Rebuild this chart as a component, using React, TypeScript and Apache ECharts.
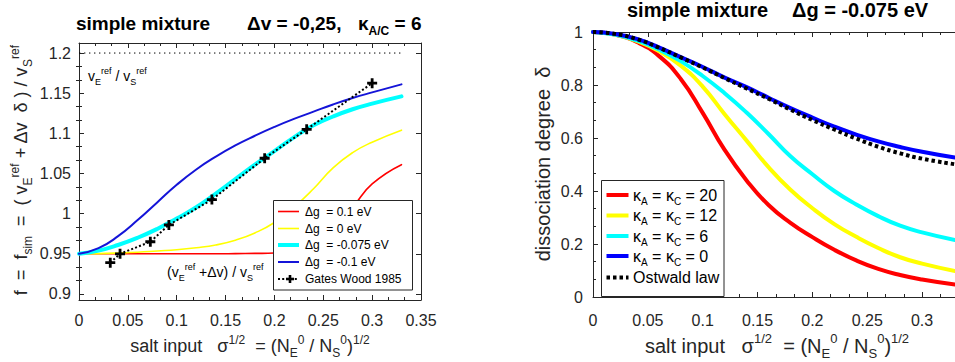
import React, { useEffect, useRef } from "react";
import * as echarts from "echarts";

const FONT = "'Liberation Sans', Arial, Helvetica, sans-serif";
const AXIS = "#262626";
const INK = "#000000";

// σ^1/2 grid of the simulated curves (both panels)
const sigma = [0, 0.02, 0.04, 0.06, 0.08, 0.1, 0.12, 0.14, 0.16, 0.18, 0.2, 0.22, 0.24, 0.26, 0.28, 0.3, 0.33];

// left panel: f = f_sim for four values of Δg
const fDgP01 = [0.95, 0.95, 0.95, 0.95, 0.95, 0.95, 0.95, 0.95, 0.9502, 0.9505, 0.951, 0.955, 0.966, 0.983, 1.008, 1.037, 1.061];
const fDg0 = [0.95, 0.9503, 0.951, 0.952, 0.9535, 0.955, 0.9575, 0.961, 0.967, 0.976, 0.989, 1.008, 1.031, 1.057, 1.076, 1.089, 1.104];
const fDgM0075 = [0.95, 0.954, 0.961, 0.97, 0.981, 0.994, 1.008, 1.025, 1.043, 1.061, 1.078, 1.095, 1.11, 1.121, 1.13, 1.137, 1.146];
const fDgM01 = [0.95, 0.957, 0.972, 0.992, 1.014, 1.036, 1.055, 1.071, 1.085, 1.097, 1.108, 1.118, 1.127, 1.136, 1.144, 1.151, 1.161];

// Gates & Wood 1985 measurements
const gwSigma = [0.032, 0.042, 0.073, 0.092, 0.136, 0.19, 0.233, 0.3];
const gwF = [0.939, 0.95, 0.965, 0.986, 1.0175, 1.069, 1.105, 1.1625];

// limiting ratio v_E^ref / v_S^ref, drawn over the simulated σ range
const refRatio = 1.2;
const refRatioSigma = [0, 0.33];

// right panel: dissociation degree δ for κ_A = κ_C
const dK20 = [1, 0.99, 0.962, 0.91, 0.823, 0.695, 0.555, 0.44, 0.347, 0.28, 0.226, 0.178, 0.138, 0.106, 0.083, 0.066, 0.047];
const dK12 = [1, 0.99, 0.966, 0.928, 0.873, 0.794, 0.69, 0.59, 0.49, 0.405, 0.335, 0.275, 0.227, 0.185, 0.15, 0.126, 0.098];
const dK6 = [1, 0.99, 0.968, 0.934, 0.89, 0.834, 0.769, 0.696, 0.615, 0.531, 0.463, 0.4, 0.349, 0.305, 0.269, 0.244, 0.215];
const dK0 = [1, 0.993, 0.974, 0.942, 0.905, 0.868, 0.828, 0.792, 0.752, 0.713, 0.677, 0.643, 0.613, 0.587, 0.566, 0.548, 0.526];
const dOstwald = [1, 0.993, 0.973, 0.941, 0.904, 0.866, 0.826, 0.787, 0.748, 0.707, 0.668, 0.632, 0.598, 0.567, 0.542, 0.522, 0.501];

// tick labels
const leftXTicks = [0, 0.05, 0.1, 0.15, 0.2, 0.25, 0.3, 0.35];
const leftYTicks = [0.9, 0.95, 1, 1.05, 1.1, 1.15, 1.2];
const rightXTicks = [0, 0.05, 0.1, 0.15, 0.2, 0.25, 0.3];
const rightYTicks = [0, 0.2, 0.4, 0.6, 0.8, 1];

// legend entries
const leftLegend = ["Δg  = 0.1 eV", "Δg  = 0 eV", "Δg  = -0.075 eV", "Δg  = -0.1 eV", "Gates Wood 1985"];
const rightKappa = ["20", "12", "6", "0"];

const RED = "#ff0000";
const YELLOW = "#ffff00";
const CYAN = "#00ffff";
const BLUE = "#0000ff";
const BLUE_L = "#1414d8";

const PLUS = "path://M3.6,0H6.4V3.6H10V6.4H6.4V10H3.6V6.4H0V3.6H3.6Z";

function scriptStyles(size: number, weight: string, color: string) {
  const L = Math.round(size * 1.4);
  const s = Math.round(size * 0.65);
  const common = { fontFamily: FONT, fontWeight: weight, fill: color };
  return {
    n: { ...common, fontSize: size, lineHeight: L },
    sub: { ...common, fontSize: s, lineHeight: L - 2 * Math.round(size * 0.28), verticalAlign: "bottom" },
    sup: { ...common, fontSize: s, lineHeight: L - 2 * Math.round(size * 0.32), verticalAlign: "top" },
  };
}

function label(
  x: number,
  y: number,
  text: string,
  size: number,
  o: { align?: string; weight?: string; rotate?: number; color?: string } = {}
) {
  const weight = o.weight || "normal";
  const color = o.color || INK;
  return {
    type: "text",
    x,
    y,
    rotation: o.rotate || 0,
    z: 110,
    silent: true,
    style: {
      text,
      align: o.align || "left",
      verticalAlign: "middle",
      fill: color,
      fontSize: size,
      fontFamily: FONT,
      fontWeight: weight,
      rich: scriptStyles(size, weight, color),
    },
  };
}

function between(ticks: number[], parts: number) {
  const out: number[] = [];
  for (let i = 0; i < ticks.length - 1; i++) {
    const step = (ticks[i + 1] - ticks[i]) / parts;
    for (let k = 1; k < parts; k++) out.push(+(ticks[i] + k * step).toFixed(6));
  }
  return out;
}

const pairs = (xs: number[], ys: number[]) => xs.map((x, i) => [x, ys[i]]);

function curve(name: string, ys: number[], color: string, width: number, xi: number, yi: number) {
  return {
    type: "line",
    name,
    xAxisIndex: xi,
    yAxisIndex: yi,
    data: pairs(sigma, ys),
    showSymbol: false,
    symbol: "none",
    smooth: 0.5,
    silent: true,
    lineStyle: { color, width, cap: "round", join: "round" },
  };
}

const axisLine = { show: true, onZero: false, lineStyle: { color: AXIS, width: 1 } };
const tickStyle = { color: AXIS, width: 1 };

function buildOption() {
  const LY_MIN = 0.8925;
  const LY_MAX = 1.2125;
  const leftYMinor = between(leftYTicks, 3);

  const xAxis = [
    // left panel, bottom + top
    {
      type: "value", gridIndex: 0, position: "bottom", min: 0, max: 0.35, interval: 0.05,
      axisLine, splitLine: { show: false },
      axisTick: { show: true, inside: true, length: 5, lineStyle: tickStyle },
      minorTick: { show: true, splitNumber: 3, length: 3, lineStyle: tickStyle },
      axisLabel: { show: true, color: AXIS, fontSize: 16, fontFamily: FONT, margin: 12, customValues: leftXTicks },
    },
    {
      type: "value", gridIndex: 0, position: "top", min: 0, max: 0.35, interval: 0.05,
      axisLine, splitLine: { show: false },
      axisTick: { show: true, inside: true, length: 5, lineStyle: tickStyle },
      minorTick: { show: true, splitNumber: 3, length: 3, lineStyle: tickStyle },
      axisLabel: { show: false },
    },
    // right panel, bottom + top
    {
      type: "value", gridIndex: 1, position: "bottom", min: 0, max: 0.33, interval: 0.05,
      axisLine, splitLine: { show: false },
      axisTick: { show: true, inside: true, length: 5, lineStyle: tickStyle },
      minorTick: { show: true, splitNumber: 3, length: 3, lineStyle: tickStyle },
      axisLabel: { show: true, color: AXIS, fontSize: 16, fontFamily: FONT, margin: 15, customValues: rightXTicks },
    },
    {
      type: "value", gridIndex: 1, position: "top", min: 0, max: 0.33, interval: 0.05,
      axisLine, splitLine: { show: false },
      axisTick: { show: true, inside: true, length: 5, lineStyle: tickStyle },
      minorTick: { show: true, splitNumber: 3, length: 3, lineStyle: tickStyle },
      axisLabel: { show: false },
    },
  ];

  const yAxis = [
    {
      type: "value", gridIndex: 0, position: "left", min: LY_MIN, max: LY_MAX,
      axisLine, splitLine: { show: false },
      axisTick: { show: true, inside: true, length: 5, lineStyle: tickStyle, customValues: leftYTicks },
      axisLabel: { show: true, color: AXIS, fontSize: 16, fontFamily: FONT, margin: 8, customValues: leftYTicks },
    },
    {
      type: "value", gridIndex: 0, position: "left", min: LY_MIN, max: LY_MAX,
      axisLine: { show: false }, splitLine: { show: false },
      axisTick: { show: true, inside: true, length: 3, lineStyle: tickStyle, customValues: leftYMinor },
      axisLabel: { show: false },
    },
    {
      type: "value", gridIndex: 0, position: "right", min: LY_MIN, max: LY_MAX,
      axisLine, splitLine: { show: false },
      axisTick: { show: true, inside: true, length: 5, lineStyle: tickStyle, customValues: leftYTicks },
      axisLabel: { show: false },
    },
    {
      type: "value", gridIndex: 0, position: "right", min: LY_MIN, max: LY_MAX,
      axisLine: { show: false }, splitLine: { show: false },
      axisTick: { show: true, inside: true, length: 3, lineStyle: tickStyle, customValues: leftYMinor },
      axisLabel: { show: false },
    },
    {
      type: "value", gridIndex: 1, position: "left", min: 0, max: 1, interval: 0.2,
      axisLine, splitLine: { show: false },
      axisTick: { show: true, inside: true, length: 5, lineStyle: tickStyle },
      minorTick: { show: true, splitNumber: 3, length: 3, lineStyle: tickStyle },
      axisLabel: { show: true, color: AXIS, fontSize: 16, fontFamily: FONT, margin: 10, customValues: rightYTicks },
    },
  ];

  const series: any[] = [
    curve("Δg = 0.1 eV", fDgP01, RED, 1.6, 0, 0),
    curve("Δg = 0 eV", fDg0, YELLOW, 1.6, 0, 0),
    curve("Δg = -0.075 eV", fDgM0075, CYAN, 4, 0, 0),
    curve("Δg = -0.1 eV", fDgM01, BLUE_L, 2, 0, 0),
    {
      type: "line",
      name: "v_E/v_S",
      xAxisIndex: 0,
      yAxisIndex: 0,
      data: refRatioSigma.map((x) => [x, refRatio]),
      showSymbol: false,
      symbol: "none",
      silent: true,
      lineStyle: { color: INK, width: 1, type: [1.4, 3.6] },
    },
    {
      type: "line",
      name: "Gates Wood 1985",
      xAxisIndex: 0,
      yAxisIndex: 0,
      data: pairs(gwSigma, gwF),
      symbol: PLUS,
      symbolSize: 10,
      showSymbol: true,
      silent: true,
      itemStyle: { color: INK },
      lineStyle: { color: INK, width: 2, type: [2, 2.2] },
      z: 5,
    },
    curve("κ = 20", dK20, RED, 4, 2, 4),
    curve("κ = 12", dK12, YELLOW, 4, 2, 4),
    curve("κ = 6", dK6, CYAN, 4, 2, 4),
    curve("κ = 0", dK0, BLUE, 4, 2, 4),
    {
      ...curve("Ostwald law", dOstwald, INK, 4, 2, 4),
      lineStyle: { color: INK, width: 4, type: [3.5, 3], cap: "butt" },
      z: 5,
    },
  ];

  // legend boxes
  const graphic: any[] = [];
  const lbox = { x: 273.5, y: 200.5, w: 139, h: 89.5 };
  graphic.push({
    type: "rect", z: 100, silent: true,
    shape: { x: lbox.x, y: lbox.y, width: lbox.w, height: lbox.h },
    style: { fill: "#ffffff", stroke: AXIS, lineWidth: 1 },
  });
  const lRows = [211.5, 228.5, 245, 262, 279];
  const lColors = [RED, YELLOW, CYAN, BLUE_L];
  const lWidths = [1.6, 1.6, 4, 2];
  lRows.forEach((yy, i) => {
    if (i < 4) {
      graphic.push({
        type: "line", z: 105, silent: true,
        shape: { x1: 278, y1: yy, x2: 299, y2: yy },
        style: { stroke: lColors[i], lineWidth: lWidths[i] },
      });
    } else {
      graphic.push({
        type: "line", z: 105, silent: true,
        shape: { x1: 278, y1: yy, x2: 299, y2: yy },
        style: { stroke: INK, lineWidth: 2, lineDash: [2, 2.2] },
      });
      graphic.push({ type: "rect", z: 106, silent: true, shape: { x: 286, y: yy - 1.3, width: 8, height: 2.6 }, style: { fill: INK } });
      graphic.push({ type: "rect", z: 106, silent: true, shape: { x: 288.7, y: yy - 4, width: 2.6, height: 8 }, style: { fill: INK } });
    }
    graphic.push(label(305, yy, leftLegend[i], 12));
  });

  const rbox = { x: 601.5, y: 180.5, w: 122.5, h: 116 };
  graphic.push({
    type: "rect", z: 100, silent: true,
    shape: { x: rbox.x, y: rbox.y, width: rbox.w, height: rbox.h },
    style: { fill: "#ffffff", stroke: AXIS, lineWidth: 1 },
  });
  const rRows = [195, 215.5, 236, 256, 277.5];
  const rColors = [RED, YELLOW, CYAN, BLUE];
  rRows.forEach((yy, i) => {
    if (i < 4) {
      graphic.push({
        type: "line", z: 105, silent: true,
        shape: { x1: 606.5, y1: yy, x2: 628.5, y2: yy },
        style: { stroke: rColors[i], lineWidth: 4 },
      });
      graphic.push(label(633, yy, `{n|κ}{sub|A}{n| = κ}{sub|C}{n| = ${rightKappa[i]}}`, 16));
    } else {
      graphic.push({
        type: "line", z: 105, silent: true,
        shape: { x1: 606.5, y1: yy, x2: 628.5, y2: yy },
        style: { stroke: INK, lineWidth: 4, lineDash: [3.5, 3] },
      });
      graphic.push(label(633, yy, "Ostwald law", 16));
    }
  });

  // titles
  graphic.push(label(76, 23.5, "simple mixture", 19, { weight: "bold" }));
  graphic.push(label(247, 23.5, "Δv = -0,25,", 19, { weight: "bold" }));
  graphic.push(label(358, 23.5, "{n|κ}{sub|A/C}{n| = 6}", 19, { weight: "bold" }));
  graphic.push(label(627, 10, "simple mixture", 20, { weight: "bold" }));
  graphic.push(label(792, 10, "Δg = -0.075 eV", 20, { weight: "bold" }));

  // axis titles
  graphic.push(
    label(21, 170, "{n|f  =  f}{sub|sim}{n|  =  ( v}{sub|E}{sup|ref}{n| + Δv  δ ) / v}{sub|S}{sup|ref}", 18, {
      align: "center",
      rotate: Math.PI / 2,
      color: AXIS,
    })
  );
  graphic.push(
    label(250, 346, "{n|salt input   σ}{sup|1/2}{n|  = (N}{sub|E}{sup|0}{n| / N}{sub|S}{sup|0}{n|)}{sup|1/2}", 18, {
      align: "center",
      color: AXIS,
    })
  );
  graphic.push(label(543, 164, "dissociation degree  δ", 20, { align: "center", rotate: Math.PI / 2, color: AXIS }));
  graphic.push(
    label(777, 346, "{n|salt input   σ}{sup|1/2}{n|  = (N}{sub|E}{sup|0}{n| / N}{sub|S}{sup|0}{n|)}{sup|1/2}", 20, {
      align: "center",
      color: AXIS,
    })
  );

  // in-plot annotations
  graphic.push(label(88, 76, "{n|v}{sub|E}{sup|ref}{n| / v}{sub|S}{sup|ref}", 14));
  graphic.push(label(167, 272, "{n|(v}{sub|E}{sup|ref}{n| +Δv) / v}{sub|S}{sup|ref}", 14));

  return {
    animation: false,
    backgroundColor: "#ffffff",
    grid: [
      { left: 79, top: 43, width: 342, height: 257, containLabel: false },
      { left: 593, top: 32, width: 362, height: 265, containLabel: false },
    ],
    xAxis,
    yAxis,
    series,
    graphic,
  };
}

export default function App() {
  const ref = useRef<HTMLDivElement>(null);
  useEffect(() => {
    if (!ref.current) return;
    const chart = echarts.init(ref.current, undefined, { renderer: "svg" });
    chart.setOption(buildOption() as any);
    return () => chart.dispose();
  }, []);
  return (
    <div
      ref={ref}
      style={{ position: "fixed", left: 0, top: 0, width: 955, height: 362, background: "#ffffff" }}
    />
  );
}
